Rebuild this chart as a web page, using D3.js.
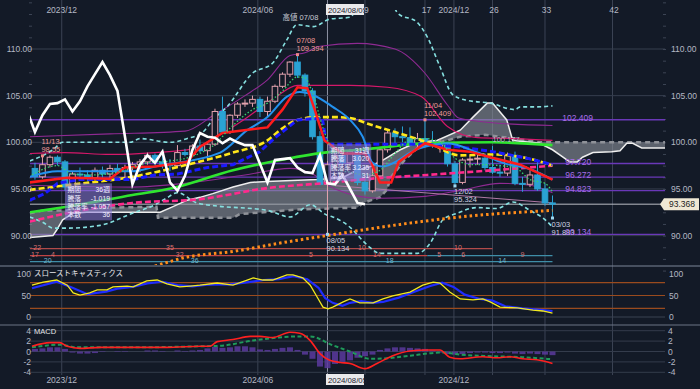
<!DOCTYPE html>
<html>
<head>
<meta charset="utf-8">
<script src="https://cdn.jsdelivr.net/npm/d3@7/dist/d3.min.js"></script>
<style>
body { margin: 0; background: #131a27; }
svg text { font-family: "Liberation Sans", "Noto Sans CJK JP", sans-serif; }
</style>
</head>
<body>
<script>
// weekly chart: candles + ichimoku + moving averages, slow stochastics, MACD
const WIDTH = 700, HEIGHT = 389;
const LEFT = 30, RIGHT = 665;
const WEEK = 7 * 864e5;
const T0 = Date.UTC(2023, 10, 6);

// ---------- candles (weekly, from 2023/11/06) ----------
const open = [97.2,96.3,97.6,98.4,97.9,95.2,96.6,96.5,96.2,97.0,
  96.6,97.2,96.9,97.3,97.6,97.9,98.6,97.9,97.6,97.5,
  98.9,98.7,99.6,99.1,99.8,103.3,101.1,102.9,104.1,104.2,
  104.6,103.3,104.4,106.0,107.3,108.6,107.2,105.5,100.6,95.5,
  97.6,98.6,97.8,99.0,95.7,94.8,96.4,99.2,101.0,100.6,
  100.5,99.9,100.4,100.0,99.7,99.7,97.7,95.7,98.1,98.2,
  98.3,97.3,96.8,96.7,98.6,95.6,95.5,96.5,95.0,93.5];
const high = [97.8,98.55,98.6,98.6,98.1,96.9,97.3,97.0,97.3,97.4,
  97.6,97.7,97.6,97.9,98.2,98.9,98.8,98.6,98.2,99.7,
  99.3,99.8,100.3,99.9,103.6,104.9,103.0,104.3,104.6,105.0,
  104.9,104.9,106.2,107.5,108.7,109.394,107.4,105.8,101.2,98.0,
  99.4,99.9,99.3,99.2,96.2,97.9,99.5,101.4,101.5,101.7,
  101.6,101.0,102.409,101.2,100.4,99.9,98.0,98.3,98.6,98.9,
  98.8,99.6,97.6,98.9,99.0,96.3,97.0,97.9,95.6,94.3];
const low = [96.0,96.1,97.3,97.5,94.8,94.9,96.0,95.8,95.9,96.2,
  96.1,96.6,96.2,96.9,96.8,97.6,97.6,97.2,96.9,97.3,
  98.5,98.5,98.9,98.0,99.6,100.9,100.9,102.6,103.8,103.8,
  102.7,102.8,104.2,105.8,107.0,106.9,104.9,100.3,95.4,90.134,
  97.0,97.3,97.5,95.4,94.4,94.6,96.2,98.9,99.8,100.0,
  99.6,99.5,99.9,99.4,98.9,97.4,95.324,95.5,97.3,97.6,
  97.0,96.6,96.3,96.4,95.4,94.7,95.2,94.8,93.2,91.883];
const close = [96.3,97.6,98.4,97.9,95.2,96.6,96.5,96.2,97.0,96.6,
  97.2,96.9,97.3,97.6,97.9,98.6,97.9,97.6,97.5,98.9,
  98.7,99.6,99.1,99.8,103.3,101.1,102.9,104.1,104.2,104.6,
  103.3,104.4,106.0,107.3,108.6,107.2,105.5,100.6,95.5,97.6,
  98.6,97.8,99.0,95.7,94.8,96.4,99.2,101.0,100.6,100.5,
  99.9,100.4,100.0,99.7,99.7,97.7,95.7,98.1,98.2,98.3,
  97.3,96.8,96.7,98.6,95.6,95.5,96.5,95.0,93.5,93.368];
const CHIKOU_SHIFT = 25;

// ---------- indicator lines: [week index, value] ----------
const tenkan = [[-0.7,95.7],[4.3,96.2],[10,96.1],[12,97.3],[16,97.4],[20.3,97.9],[22,99.5],[25,101.0],[31,101.6],[33,103.5],[35,105.9],[36.3,105.8],[37.3,103.5],[38.6,100.2],[41,98.8],[44,98.8],[45,97.5],[46,95.7],[47.5,95.7],[48.5,97.9],[52,99.9],[55,99.2],[58,99.0],[60.7,98.4],[64.7,97.6],[69,96.0]];
const kijun = [[-0.7,93.8],[1.3,94.5],[3,95.6],[6,96.0],[13,96.0],[16,96.5],[19,96.6],[23,97.3],[26.4,97.6],[30,99.0],[32,100.5],[35,102.4],[38.3,102.6],[38.9,99.8],[52,99.8],[56.7,99.5],[61,99.0],[65.6,98.3],[69,97.6]];
const maBlue = [[-0.7,96.3],[3,96.9],[8,96.9],[13,96.9],[16,97.4],[24.7,98.9],[28.3,101.3],[31,102.7],[33.6,104.9],[35.3,105.4],[37,105.1],[39.7,103.8],[42,102.4],[43.7,100.6],[45,97.8],[46.3,97.4],[48.5,98.1],[50,98.9],[53,99.7],[55,99.9],[59,98.9],[62.4,97.8],[66.4,97.0],[69,96.0]];
const maDotGreen = [[-0.4,96.5],[3,97.5],[5,96.6],[8,96.5],[12,97.0],[15,97.8],[18,98.0],[21,98.5],[24,99.8],[26,101.5],[29,103.5],[31,104.2],[33,105.5],[35,107.0],[36,106.9],[37,105.3],[38.5,101.3],[39.5,99.2],[40.5,97.0],[42,96.8],[44,96.5],[46,97.0],[48,98.8],[50,100.3],[52,100.4],[54,100.0],[56,98.3],[58,97.6],[60,97.6],[62,97.5],[64,97.3],[66,96.0],[68,95.6],[69,94.7]];
const maYellow = [[-0.7,94.9],[4.3,95.4],[13,96.3],[20.3,97.6],[26.4,98.9],[31,100.2],[33,101.5],[35,102.4],[37.6,102.7],[40,102.7],[42,102.6],[44.7,101.9],[48,101.1],[52.3,100.0],[56.7,98.6],[61,98.7],[65.6,98.3],[69,97.5]];
const maGreen = [[-0.7,92.5],[4.3,93.1],[13,94.35],[18.4,95.1],[26.4,97.0],[34,98.3],[39.7,99.0],[43.3,99.2],[52.3,99.9],[61,100.0],[69,99.7]];
const maPink = [[-0.7,91.5],[4.3,92.4],[13,93.5],[22,93.9],[31,95.1],[39.7,95.7],[43.3,96.0],[52.3,96.5],[61,97.0],[69,97.5]];
const maOrange = [[-0.7,84.9],[15.3,86.6],[20.3,87.7],[26.4,88.3],[32.7,89.2],[39.7,90.1],[48.7,91.2],[56.7,92.0],[69,92.7]];
const bbUpper = [[-0.7,98.0],[2.4,99.2],[3.7,100.0],[12.7,100.0],[14,100.4],[18,100.0],[20.3,100.4],[22.4,101.1],[23.7,102.4],[25.6,103.8],[29,107.4],[31.7,108.5],[33.6,111.0],[34.9,112.6],[37.1,112.4],[39.3,113.2],[42,113.4],[44,115.8],[47,115.8],[48.4,113.8],[50.9,112.9],[52.3,111.3],[54,108.1],[55.7,105.1],[57.6,104.5],[60.7,104.2],[64,103.5],[64.7,103.8],[66.9,103.8],[69,103.9]];
const bbLower = [[-0.7,92.0],[1.1,91.4],[2.4,90.8],[4.3,90.8],[8.7,91.1],[13,92.4],[16,93.3],[17.5,94.0],[19,94.6],[21.6,93.5],[24,93.2],[31,92.7],[34,92.0],[36.7,93.3],[38.9,92.2],[39.7,92.0],[42.4,90.6],[43.3,89.8],[44.7,88.7],[46,88.1],[51,88.1],[52.7,89.2],[54.4,91.7],[56.3,92.4],[58.9,93.0],[61.6,92.9],[63.7,93.6],[66,92.7],[68.3,91.5],[69,90.9]];
const bandCrimson = [[-0.7,98.8],[4,98.9],[10,98.7],[16,98.9],[21,99.3],[24,100.5],[28,102.5],[32,104.8],[35,106.1],[42,106.1],[47,105.9],[51.5,104.9],[55,101.7],[59,100.5],[64,100.4],[69,100.2]];
const bandPurpleUp = [[-0.7,100.6],[10,100.9],[20,101.2],[24,103.0],[28,105.0],[31,106.7],[34,109.3],[36,109.6],[38,110.3],[43,110.6],[48,110.0],[52,107.4],[55,104.0],[56.5,102.6],[61,102.1],[69,101.8]];
const bandPurpleLow = [[-0.7,95.4],[13,95.2],[20,95.6],[28,96.5],[34,97.2],[37,96.6],[40,95.0],[46,94.0],[52,94.2],[57,94.9],[62,95.6],[66,95.4],[69,94.6]];
const trendLine = [[40,95.35],[69,93.5]];
const spanA = [[-0.7,89.8],[2.4,90.0],[2.9,90.6],[3.7,91.7],[5.1,92.4],[6.9,92.5],[16.7,92.5],[18.4,93.1],[20.3,93.8],[22,94.1],[23.7,94.5],[26.4,95.2],[28.7,95.7],[30.9,95.8],[37.6,96.0],[41,96.2],[42.9,97.0],[44.7,97.4],[46.4,98.1],[48.7,99.2],[50.9,100.0],[53.6,100.2],[56.7,101.3],[58.4,102.7],[60.3,104.2],[61,104.2],[62.9,102.4],[63.7,100.2],[67.3,99.9],[69,99.2],[70.4,98.4],[71.3,97.9],[72.3,97.9],[73,98.4],[74.4,98.9],[76.9,99.0],[78,99.1],[78.9,99.9],[79.7,99.9],[80.9,99.4],[84.3,99.4]];
const spanB = [[-0.7,92.4],[1.1,92.7],[4.3,92.7],[10,93.0],[16.2,93.1],[16.4,91.9],[26.4,91.9],[27.3,92.3],[35,92.8],[43,93.0],[43.7,93.5],[46,94.1],[46.9,94.9],[47.5,96.3],[49.3,98.1],[51,99.4],[53.6,99.9],[56.7,100.6],[60,100.8],[64,100.4],[67.3,100.0],[84.3,100.0]];

// fibonacci levels and current price
const fibLevels = [102.409, 97.720, 96.272, 94.823, 90.134];
const fibLabels = ["102.409", "97.720", "96.272", "94.823", "90.134"];
const lastPrice = 93.368;

// high / low annotations: [week index, price, date text, value text, isHigh]
const pivots = [[1, 98.55, "11/13", "98.55", true], [35, 109.394, "07/08", "109.394", true],
  [52, 102.409, "11/04", "102.409", true], [39, 90.134, "08/05", "90.134", false],
  [56, 95.324, "12/02", "95.324", false], [69, 91.883, "03/03", "91.883", false]];

// period boxes: anchor week, top price, rows
const infoBoxes = [
  {at: 4, top: 95.6, w: 47, rows: [["期間", "36週"], ["騰落", "-1.019"], ["騰落率", "-1.057"], ["本数", "36"]]},
  {at: 39.1, top: 99.8, w: 43, rows: [["期間", "31週"], ["騰落", "3.020"], ["騰落率", "3.235"], ["本数", "31"]]}
];

// count rows at bottom of price panel
const countRows = [
  {level: 88.6, segs: [[-0.7, 61, "#b04a4a"]], color: "#d87070",
    labels: [[0.3, "22"], [18, "35"], [43.6, "10"], [56.4, "10"]]},
  {level: 87.85, segs: [[-0.7, 52.3, "#c04444"], [52.3, 69, "#3f8ea8"]], color: "#d87070",
    labels: [[0, "17"], [2.4, "4"], [19.3, "32"], [36.8, "5"], [45.6, "14"], [53.9, "5"], [57.1, "6"], [65, "9"]]},
  {level: 87.2, segs: [[-0.7, 69, "#3f8ea8"]], color: "#6fb6cc",
    labels: [[1.7, "20"], [21.3, "36"], [47.3, "18"], [62.3, "14"]]}
];

// ---------- slow stochastics ----------
const stochK = [[-0.4,74],[1.1,81],[2.9,86],[4.3,74],[5.1,56],[6,51],[7.3,56],[8.3,63],[9.6,63],[10.4,70],[12.3,72],[13.1,70],[14.9,84],[16.3,86],[17.6,77],[19.3,70],[20.7,72],[22,74],[24.3,79],[26.4,74],[28.3,86],[29.1,91],[30.4,86],[31.7,86],[33.6,98],[34.4,98],[35.7,91],[36.7,74],[37.6,47],[38.4,23],[39.1,19],[39.7,23],[41.1,35],[42,42],[43.3,33],[45.1,33],[46.4,42],[47.7,49],[50,58],[51.7,74],[53.1,81],[54,79],[55.3,58],[56.7,42],[58.4,40],[59.7,42],[60.7,35],[62,23],[64.3,21],[66.4,16],[67.7,14],[69,9]];
const stochD = [[-0.4,67],[2.9,82],[5,68],[7,53],[9.5,59],[11,66],[13,70],[15,78],[17,82],[19,74],[21,71],[23,75],[26,76],[28,80],[30.5,86],[32.5,88],[34.5,95],[36.3,88],[37.8,68],[38.7,44],[39.7,33],[41,26],[42,33],[43.5,37],[45,33],[46.4,35],[48.5,45],[50.5,58],[52.7,72],[54.3,80],[55.8,70],[57.3,52],[59.3,42],[61,38],[62.7,25],[65,20],[67,17],[69,14]];
const stochLevels = [80, 50, 20];

// ---------- MACD ----------
const macdLine = [[-0.4,1.0],[2,1.7],[3.3,1.7],[4.3,1.0],[6,0.6],[8.7,0.8],[13,0.8],[17.6,0.8],[22,1.0],[23.3,1.0],[24.3,1.9],[26.4,2.3],[28.7,2.9],[30,2.9],[31.7,2.7],[34,3.7],[35.3,3.5],[36.7,2.1],[38,-0.4],[39.3,-1.7],[40.7,-2.1],[42,-2.3],[44,-3.3],[45.6,-2.3],[47.7,-0.8],[50,0.1],[52.3,0.3],[54,0.3],[55.3,-1.1],[56.7,-1.4],[59.7,-1.0],[61.6,-1.2],[63.3,-1.0],[65,-1.4],[66.9,-1.6],[69,-2.3]];
const macdSignal = [[-0.4,0.8],[3.3,1.3],[5.6,0.8],[13,0.8],[22,1.0],[24.7,1.1],[29,2.1],[35.3,2.9],[36.7,2.9],[39.7,1.2],[42,0.0],[44.7,-1.4],[47,-1.3],[50,-0.8],[54.4,-0.2],[56.7,-0.6],[61,-0.9],[65,-1.1],[69,-1.5]];
const macdHist = [0.5,0.6,0.8,0.8,0.5,-0.2,-0.4,-0.4,-0.3,-0.1,
  0.0,0.1,0.1,0.0,0.0,0.2,0.2,0.1,0.0,0.2,
  0.1,0.2,0.3,0.6,0.9,0.7,0.8,1.0,1.0,0.8,
  0.4,0.3,0.5,0.7,0.8,0.3,-0.6,-1.4,-2.9,-3.2,
  -2.4,-2.0,-1.7,-1.2,-0.9,-0.6,0.3,0.6,0.8,0.8,
  0.7,0.6,0.5,0.2,-0.2,-0.5,-0.6,-0.5,-0.3,-0.2,
  -0.2,-0.3,-0.3,-0.2,-0.4,-0.5,-0.4,-0.5,-0.6,-0.7];

// ---------- time axis ----------
const monthTicks = ["2023-12-01", "2024-06-01", "2024-12-01"];
const monthLabels = ["2023/12", "2024/06", "2024/12"];
const focusDate = "2024-08-05";
const focusLabel = "2024/08/05";
const countFrom = "2024-07-08";
const weekCounts = [9, 17, 26, 33, 42];

// ---------- scales ----------
const weeks = d3.utcMonday.range(new Date(T0), new Date(Date.UTC(2025, 2, 4)));
const x = d3.scaleUtc()
  .domain([new Date(Date.UTC(2023, 10, 1)), new Date(Date.UTC(2025, 5, 16))])
  .range([29.6, RIGHT]);
const xi = i => x(new Date(T0 + i * WEEK));

const y = d3.scaleLinear().domain([90, 110]).range([235.6, 49]);
const yS = d3.scaleLinear().domain([0, 100]).range([317, 274]);
const yM = d3.scaleLinear().domain([-4, 4]).range([372.3, 330.7]);

const svg = d3.select("body").append("svg")
  .attr("width", WIDTH).attr("height", HEIGHT);
svg.append("rect").attr("width", WIDTH).attr("height", HEIGHT).attr("fill", "#131a27");

const defs = svg.append("defs");
defs.append("clipPath").attr("id", "cMain").append("rect")
  .attr("x", LEFT).attr("y", 10).attr("width", RIGHT - LEFT).attr("height", 255);
defs.append("clipPath").attr("id", "cStoch").append("rect")
  .attr("x", LEFT).attr("y", 267).attr("width", RIGHT - LEFT).attr("height", 57);
defs.append("clipPath").attr("id", "cMacd").append("rect")
  .attr("x", LEFT).attr("y", 326).attr("width", RIGHT - LEFT).attr("height", 48);

const lineOf = (yy, curve) => d3.line().x(d => xi(d[0])).y(d => yy(d[1])).curve(curve || d3.curveMonotoneX);

// ---------- grid ----------
const grid = svg.append("g");
const vLines = monthTicks.map(d => x(new Date(d + "T00:00:00Z")))
  .concat(weekCounts.map(n => x(new Date(Date.parse(countFrom + "T00:00:00Z") + n * WEEK))));
grid.selectAll("line.v").data(vLines).join("line")
  .attr("x1", d => d).attr("x2", d => d).attr("y1", 0).attr("y2", 375)
  .attr("stroke", "#3b4354").attr("stroke-width", 1);
const xFocus = x(new Date(focusDate + "T00:00:00Z"));
grid.append("line").attr("x1", xFocus).attr("x2", xFocus).attr("y1", 0).attr("y2", 375)
  .attr("stroke", "#8d93a3").attr("stroke-width", 1);

grid.selectAll("line.h").data([110, 105, 100, 95, 90]).join("line")
  .attr("x1", LEFT).attr("x2", RIGHT).attr("y1", d => y(d)).attr("y2", d => y(d))
  .attr("stroke", "#363e4e");

// minor ticks on price axes
const minor = d3.range(86.25, 115.1, 1.25);
svg.append("g").attr("transform", `translate(${LEFT + 2},0)`)
  .call(d3.axisLeft(y).tickValues(minor).tickSize(3).tickFormat(""))
  .call(g => g.select(".domain").remove())
  .selectAll("line").attr("stroke", "#3c4454");
svg.append("g").attr("transform", `translate(${RIGHT - 2},0)`)
  .call(d3.axisRight(y).tickValues(minor).tickSize(3).tickFormat(""))
  .call(g => g.select(".domain").remove())
  .selectAll("line").attr("stroke", "#3c4454");

// panel separators
svg.append("line").attr("x1", 0).attr("x2", WIDTH).attr("y1", 266).attr("y2", 266).attr("stroke", "#7d8699");
svg.append("line").attr("x1", 0).attr("x2", WIDTH).attr("y1", 325).attr("y2", 325).attr("stroke", "#6c7486");

// ---------- price panel ----------
const main = svg.append("g").attr("clip-path", "url(#cMain)");

main.selectAll("line.fib").data(fibLevels).join("line")
  .attr("x1", LEFT).attr("x2", RIGHT).attr("y1", d => y(d)).attr("y2", d => y(d))
  .attr("stroke", "#6a38b8").attr("stroke-width", 1.4);
main.append("line").attr("x1", LEFT).attr("x2", RIGHT)
  .attr("y1", y(lastPrice)).attr("y2", y(lastPrice))
  .attr("stroke", "#b9bcc4").attr("stroke-width", 1);

// ichimoku cloud
main.append("path")
  .attr("d", d3.line().x(d => xi(d[0])).y(d => y(d[1]))(spanA.concat(spanB.slice().reverse())) + "Z")
  .attr("fill", "#8e939c").attr("fill-opacity", 0.6);
main.append("path").datum(spanB).attr("d", lineOf(y, d3.curveLinear))
  .attr("fill", "none").attr("stroke", "#8f9299").attr("stroke-width", 2.5).attr("stroke-dasharray", "5,4");
main.append("path").datum(spanA).attr("d", lineOf(y, d3.curveLinear))
  .attr("fill", "none").attr("stroke", "#eeeeee").attr("stroke-width", 1.5);

// count rows
countRows.forEach(r => {
  r.segs.forEach(s => {
    main.append("line").attr("x1", xi(s[0])).attr("x2", xi(s[1]))
      .attr("y1", y(r.level)).attr("y2", y(r.level)).attr("stroke", s[2]).attr("stroke-width", 1.3);
  });
  main.selectAll(null).data(r.labels).join("text")
    .attr("x", d => xi(d[0])).attr("y", y(r.level) + 1.5)
    .attr("text-anchor", "middle").attr("font-size", 7).attr("fill", r.color)
    .text(d => d[1]);
});

// bands
const thin = (data, color, w, dash) => main.append("path").datum(data).attr("d", lineOf(y))
  .attr("fill", "none").attr("stroke", color).attr("stroke-width", w)
  .attr("stroke-dasharray", dash || null);
thin(bandPurpleUp, "#8e2a92", 1.1);
thin(bandPurpleLow, "#8e2a92", 1.1);
thin(bandCrimson, "#d5186a", 1.2);
thin(trendLine, "#b07aa6", 1);
thin(bbUpper, "#86e0e0", 1.6, "4,3");
thin(bbLower, "#86e0e0", 1.6, "4,3");

// candles
const bw = 5.6;
const candle = main.append("g").selectAll("g").data(weeks).join("g");
candle.append("line")
  .attr("x1", (d, i) => xi(i)).attr("x2", (d, i) => xi(i))
  .attr("y1", (d, i) => y(high[i])).attr("y2", (d, i) => y(low[i]))
  .attr("stroke", (d, i) => close[i] >= open[i] ? "#e3a2ae" : "#2aa3d4");
candle.append("rect")
  .attr("x", (d, i) => xi(i) - bw / 2).attr("width", bw)
  .attr("y", (d, i) => y(Math.max(open[i], close[i])))
  .attr("height", (d, i) => Math.max(1, Math.abs(y(open[i]) - y(close[i]))))
  .attr("fill", (d, i) => close[i] >= open[i] ? "#131a27" : "#2aa3d4")
  .attr("stroke", (d, i) => close[i] >= open[i] ? "#e3a2ae" : "#2aa3d4")
  .attr("stroke-width", 1);

// moving averages
thin(maOrange, "#ff8c1a", 3, "2.5,3");
thin(maPink, "#ff2a8c", 2.6, "6,3");
thin(maGreen, "#2fe52f", 2.6);
thin(maYellow, "#ffe71a", 2.6, "6,3");
main.append("path").datum(kijun).attr("d", lineOf(y, d3.curveLinear))
  .attr("fill", "none").attr("stroke", "#1a1aff").attr("stroke-width", 3).attr("stroke-dasharray", "6,3");
thin(maBlue, "#2391ee", 2);
main.append("path").datum(tenkan).attr("d", lineOf(y, d3.curveLinear))
  .attr("fill", "none").attr("stroke", "#ff1c1c").attr("stroke-width", 2.5);
thin(maDotGreen, "#3bd070", 1.3, "1.5,2");

// lagging span
const chikou = close.map((c, i) => [i - CHIKOU_SHIFT, c]).filter(d => d[0] >= -1);
main.append("path").datum(chikou).attr("d", lineOf(y, d3.curveLinear))
  .attr("fill", "none").attr("stroke", "#ffffff").attr("stroke-width", 2.6);

// pivots
pivots.forEach(p => {
  const px = xi(p[0]), py = y(p[1]);
  main.append("rect").attr("x", px - 1.5).attr("y", py - 1.5).attr("width", 3).attr("height", 3)
    .attr("fill", p[4] ? "#f08a8a" : "#9fd8f0");
  const c = p[4] ? "#f09a9a" : "#cfd3e0";
  const y1 = p[4] ? py - 11.5 : py + 8.5, y2 = p[4] ? py - 3.5 : py + 16.5;
  main.append("text").attr("x", px - 1).attr("y", y1).attr("font-size", 7.5).attr("fill", c).text(p[2]);
  main.append("text").attr("x", px - 1).attr("y", y2).attr("font-size", 7.5).attr("fill", c).text(p[3]);
});
main.append("text").attr("x", xi(35) - 15).attr("y", 20).attr("font-size", 7.5)
  .attr("fill", "#c7cad3").text("高値 07/08");
main.append("text").attr("x", xi(61)).attr("y", y(100.05)).attr("font-size", 7.5)
  .attr("fill", "#b8bcc6").text("100.177");

// fib labels
main.selectAll("text.fib").data(fibLevels).join("text")
  .attr("x", (d, i) => i === 0 ? xi(70.3) : xi(70.7)).attr("y", d => y(d) + 1)
  .attr("font-size", 8.5).attr("fill", "#a76fe6")
  .text((d, i) => fibLabels[i]);

// info boxes
infoBoxes.forEach(b => {
  const bx = xi(b.at), by = y(b.top);
  main.append("rect").attr("x", bx).attr("y", by).attr("width", b.w).attr("height", 37)
    .attr("fill", "#8a78d8").attr("fill-opacity", 0.55);
  b.rows.forEach((r, k) => {
    main.append("text").attr("x", bx + 2.5).attr("y", by + 9 + k * 8.2).attr("font-size", 6.8)
      .attr("fill", "#f2f0ff").text(r[0]);
    main.append("text").attr("x", bx + b.w - 2).attr("y", by + 9 + k * 8.2).attr("font-size", 6.8)
      .attr("text-anchor", "end").attr("fill", "#f2f0ff").text(r[1]);
  });
});

// price axis labels
const pTicks = [110, 105, 100, 95, 90];
svg.selectAll("text.pl").data(pTicks).join("text")
  .attr("x", LEFT + 2).attr("y", d => y(d) + 3).attr("text-anchor", "end")
  .attr("font-size", 8.5).attr("fill", "#b3b8c4").text(d => d.toFixed(2));
svg.selectAll("text.pr").data(pTicks).join("text")
  .attr("x", RIGHT + 6).attr("y", d => y(d) + 3)
  .attr("font-size", 8.5).attr("fill", "#b3b8c4").text(d => d.toFixed(2));

// last price tag
const ly = y(lastPrice);
svg.append("path")
  .attr("d", `M${RIGHT - 5},${ly} L${RIGHT - 1},${ly - 6} L${WIDTH - 1},${ly - 6} L${WIDTH - 1},${ly + 6} L${RIGHT - 1},${ly + 6} Z`)
  .attr("fill", "#efe8d4");
svg.append("text").attr("x", RIGHT + 4).attr("y", ly + 3).attr("font-size", 8.5)
  .attr("fill", "#222").text(lastPrice.toFixed(3));

// ---------- stochastics ----------
const st = svg.append("g").attr("clip-path", "url(#cStoch)");
st.append("line").attr("x1", LEFT).attr("x2", RIGHT).attr("y1", yS(0)).attr("y2", yS(0)).attr("stroke", "#3a4252");
st.selectAll("line.lv").data(stochLevels).join("line")
  .attr("x1", LEFT).attr("x2", RIGHT).attr("y1", d => yS(d)).attr("y2", d => yS(d))
  .attr("stroke", "#9a4b1e").attr("stroke-width", 1.2);
st.append("path").datum(stochD).attr("d", lineOf(yS, d3.curveLinear))
  .attr("fill", "none").attr("stroke", "#1f2cff").attr("stroke-width", 2.2);
st.append("path").datum(stochK).attr("d", lineOf(yS, d3.curveLinear))
  .attr("fill", "none").attr("stroke", "#f2ea1e").attr("stroke-width", 1.3);
svg.append("text").attr("x", 34).attr("y", 276).attr("font-size", 7.5).attr("fill", "#e6e6ea").text("スローストキャスティクス");
[100, 50, 0].forEach(v => {
  svg.append("text").attr("x", LEFT + 1).attr("y", yS(v) + 3).attr("text-anchor", "end")
    .attr("font-size", 8.5).attr("fill", "#b3b8c4").text(v);
  svg.append("text").attr("x", RIGHT + 4).attr("y", yS(v) + 3)
    .attr("font-size", 8.5).attr("fill", "#b3b8c4").text(v);
});

// ---------- MACD ----------
const mc = svg.append("g").attr("clip-path", "url(#cMacd)");
mc.selectAll("line.g").data([4, 2, 0, -2, -4]).join("line")
  .attr("x1", LEFT).attr("x2", RIGHT).attr("y1", d => yM(d)).attr("y2", d => yM(d))
  .attr("stroke", "#343c4c");
mc.selectAll("rect").data(macdHist).join("rect")
  .attr("x", (d, i) => xi(i) - 3).attr("width", 6)
  .attr("y", d => yM(Math.max(0, d))).attr("height", d => Math.abs(yM(d) - yM(0)))
  .attr("fill", "#5a3a9e").attr("fill-opacity", 0.85);
mc.append("path").datum(macdSignal).attr("d", lineOf(yM))
  .attr("fill", "none").attr("stroke", "#1f9a5a").attr("stroke-width", 2).attr("stroke-dasharray", "4,2.5");
mc.append("path").datum(macdLine).attr("d", lineOf(yM))
  .attr("fill", "none").attr("stroke", "#ff2020").attr("stroke-width", 1.6);
svg.append("text").attr("x", 34).attr("y", 334).attr("font-size", 7.5).attr("fill", "#e6e6ea").text("MACD");
[4, 2, 0, -2, -4].forEach(v => {
  svg.append("text").attr("x", LEFT + 1).attr("y", yM(v) + 3).attr("text-anchor", "end")
    .attr("font-size", 8.5).attr("fill", "#b3b8c4").text(v);
  svg.append("text").attr("x", RIGHT + 3).attr("y", yM(v) + 3)
    .attr("font-size", 8.5).attr("fill", "#b3b8c4").text(v);
});

// ---------- time labels ----------
[13, 383].forEach(ty => {
  svg.selectAll(null).data(monthTicks).join("text")
    .attr("x", d => x(new Date(d + "T00:00:00Z"))).attr("y", ty)
    .attr("text-anchor", "middle").attr("font-size", 8.5).attr("fill", "#b3b8c4")
    .text((d, i) => monthLabels[i]);
  svg.append("rect").attr("x", xFocus - 1.5).attr("y", ty - 9).attr("width", 38).attr("height", 11)
    .attr("fill", "#e9e9ec");
  svg.append("text").attr("x", xFocus + 0.5).attr("y", ty - 0.5).attr("font-size", 7.8)
    .attr("fill", "#1c2230").text(focusLabel);
});
svg.selectAll("text.wc").data(weekCounts).join("text")
  .attr("x", n => x(new Date(Date.parse(countFrom + "T00:00:00Z") + n * WEEK)) + 1.5).attr("y", 13)
  .attr("text-anchor", "middle").attr("font-size", 8.5).attr("fill", "#b3b8c4").text(n => n);
</script>
</body>
</html>
